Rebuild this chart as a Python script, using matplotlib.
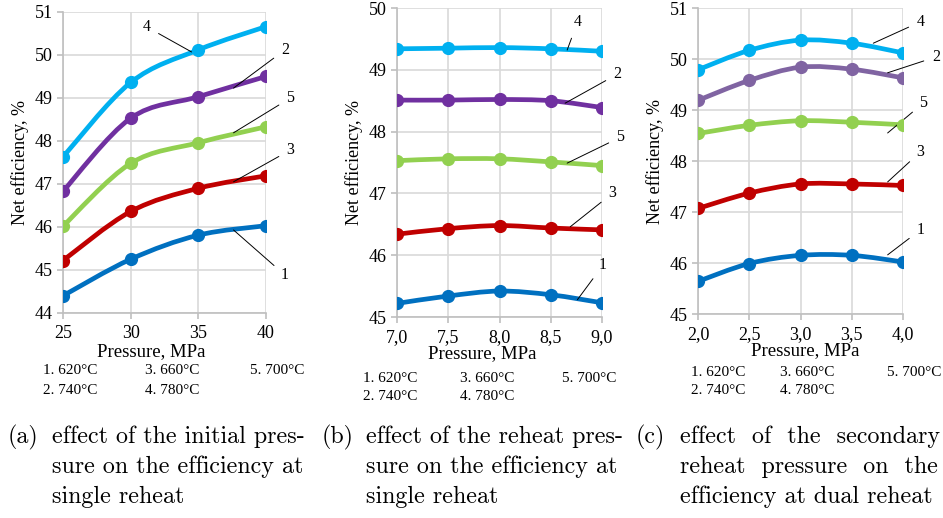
import matplotlib
matplotlib.use("Agg")
import matplotlib.pyplot as plt
import numpy as np
from matplotlib.path import Path
from matplotlib.patches import PathPatch

# --- data ---
series_order = ["4", "2", "5", "3", "1"]

press_a = [25, 30, 35, 40]
eff_a = {
    "4": [47.63, 49.36, 50.12, 50.66],
    "2": [46.83, 48.53, 49.03, 49.50],
    "5": [46.02, 47.48, 47.96, 48.33],
    "3": [45.22, 46.36, 46.90, 47.19],
    "1": [44.40, 45.25, 45.81, 46.03],
}

press_b = [7.0, 7.5, 8.0, 8.5, 9.0]
eff_b = {
    "4": [49.34, 49.35, 49.36, 49.34, 49.30],
    "2": [48.51, 48.51, 48.52, 48.50, 48.39],
    "5": [47.53, 47.56, 47.56, 47.51, 47.45],
    "3": [46.34, 46.43, 46.48, 46.44, 46.41],
    "1": [45.22, 45.34, 45.42, 45.36, 45.23],
}

press_c = [2.0, 2.5, 3.0, 3.5, 4.0]
eff_c = {
    "4": [49.79, 50.17, 50.37, 50.31, 50.12],
    "2": [49.19, 49.58, 49.84, 49.80, 49.63],
    "5": [48.54, 48.70, 48.79, 48.76, 48.71],
    "3": [47.07, 47.37, 47.55, 47.55, 47.52],
    "1": [45.64, 45.99, 46.15, 46.15, 46.02],
}

xticks_a = ["25", "30", "35", "40"]
xticks_b = ["7,0", "7,5", "8,0", "8,5", "9,0"]
xticks_c = ["2,0", "2,5", "3,0", "3,5", "4,0"]

legend_row1 = ["1. 620°C", "3. 660°C", "5. 700°C"]
legend_row2 = ["2. 740°C", "4. 780°C"]

captions = [
    ("(a)", ["effect of the initial pres-", "sure on the efficiency at", "single reheat"]),
    ("(b)", ["effect of the reheat pres-", "sure on the efficiency at", "single reheat"]),
    ("(c)", ["effect  of  the  secondary", "reheat  pressure  on  the", "efficiency at dual reheat"]),
]

colors = {"4": "#00B0F0", "2": "#7030A0", "5": "#92D050", "3": "#C00000", "1": "#0070C0"}
colors_c = dict(colors, **{"2": "#8064A2"})

SERIF = "Liberation Serif"
GRID = "#D9D9D9"


def smooth_line(ax, x, y, color):
    # excel-style smoothed line: cubic bezier through the points
    x = np.asarray(x, float)
    y = np.asarray(y, float)
    pts = np.column_stack([x, y])
    n = len(pts)
    verts = [pts[0]]
    codes = [Path.MOVETO]
    for i in range(n - 1):
        p0 = pts[i - 1] if i > 0 else pts[i]
        p1 = pts[i]
        p2 = pts[i + 1]
        p3 = pts[i + 2] if i + 2 < n else pts[i + 1]
        c1 = p1 + (p2 - p0) / 6.0
        c2 = p2 - (p3 - p1) / 6.0
        verts += [c1, c2, p2]
        codes += [Path.CURVE4] * 3
    patch = PathPatch(Path(verts, codes), facecolor="none", edgecolor=color,
                      lw=3.4, capstyle="round", joinstyle="round", zorder=3)
    ax.add_patch(patch)
    ax.plot(x, y, ls="none", marker="o", ms=8.5, color=color, zorder=4)


def style_axes(ax, xs, xlabels, ylim, xlab_pos):
    ax.set_xlim(xs[0], xs[-1])
    ax.set_ylim(*ylim)
    ax.set_xticks(xs)
    ax.set_xticklabels(xlabels)
    ax.set_yticks(np.arange(ylim[0], ylim[1] + 1))
    ax.grid(True, color=GRID, lw=1.2)
    ax.set_axisbelow(True)
    for s in ["top", "right"]:
        ax.spines[s].set_visible(False)
    for s in ["left", "bottom"]:
        ax.spines[s].set_color("#BFBFBF")
        ax.spines[s].set_linewidth(1.2)
    ax.tick_params(axis="both", colors="#BFBFBF", labelcolor="black",
                   labelsize=13, length=4, width=1.2)
    ax.tick_params(axis="x", pad=5)
    for lab in ax.get_xticklabels() + ax.get_yticklabels():
        lab.set_fontfamily(SERIF)
    ax.set_xlabel("Pressure, MPa", fontfamily=SERIF, fontsize=13.5)
    ax.xaxis.set_label_coords(*xlab_pos)
    ax.set_ylabel("Net efficiency, %", fontfamily=SERIF, fontsize=13, labelpad=4)


def label(ax, txt, xy, xytext):
    ax.annotate(txt, xy=xy, xytext=xytext, textcoords="data",
                fontfamily=SERIF, fontsize=11.5, ha="center", va="center",
                annotation_clip=False,
                arrowprops=dict(arrowstyle="-", color="black", lw=0.7,
                                shrinkA=4, shrinkB=0))


fig = plt.figure(figsize=(9.43, 5.18), dpi=100)

ax_a = fig.add_axes([0.0668, 0.3958, 0.2153, 0.5811])
ax_b = fig.add_axes([0.4210, 0.3880, 0.2174, 0.5965])
ax_c = fig.add_axes([0.7402, 0.3938, 0.2174, 0.5907])

for k in series_order:
    smooth_line(ax_a, press_a, eff_a[k], colors[k])
    smooth_line(ax_b, press_b, eff_b[k], colors[k])
    smooth_line(ax_c, press_c, eff_c[k], colors_c[k])

style_axes(ax_a, press_a, xticks_a, (44, 51), (0.433, -0.10))
style_axes(ax_b, press_b, xticks_b, (45, 50), (0.415, -0.091))
style_axes(ax_c, press_c, xticks_c, (45, 51), (0.522, -0.092))

# leader-line labels
label(ax_a, "4", (34.5, 50.07), (31.2, 50.65))
label(ax_a, "2", (37.6, 49.23), (41.4, 50.12))
label(ax_a, "5", (37.6, 48.19), (41.8, 49.00))
label(ax_a, "3", (37.6, 47.05), (41.8, 47.79))
label(ax_a, "1", (37.6, 45.93), (41.4, 44.88))

label(ax_b, "4", (8.66, 49.32), (8.76, 49.77))
label(ax_b, "2", (8.64, 48.46), (9.15, 48.93))
label(ax_b, "5", (8.66, 47.49), (9.18, 47.91))
label(ax_b, "3", (8.69, 46.46), (9.10, 47.00))
label(ax_b, "1", (8.76, 45.28), (9.01, 45.84))

label(ax_c, "4", (3.71, 50.31), (4.17, 50.73))
label(ax_c, "2", (3.85, 49.73), (4.32, 50.04))
label(ax_c, "5", (3.85, 48.55), (4.20, 49.14))
label(ax_c, "3", (3.85, 47.59), (4.17, 48.18))
label(ax_c, "1", (3.85, 46.16), (4.17, 46.65))

# text legends under each panel (pixel positions, top-left origin)
W, H = 943, 518
legend_spots = [
    ((43, 145, 250), (371, 390)),
    ((363, 460, 562), (378, 397)),
    ((691, 780, 887), (372, 391)),
]
for xs, (y1, y2) in legend_spots:
    for x, t in zip(xs, legend_row1):
        fig.text(x / W, 1 - y1 / H, t, fontfamily=SERIF, fontsize=11, va="center")
    for x, t in zip(xs, legend_row2):
        fig.text(x / W, 1 - y2 / H, t, fontfamily=SERIF, fontsize=11, va="center")

# captions
cap_x = [(8, 52), (322, 366), (636, 680)]
for (xl, xt), (tag, lines) in zip(cap_x, captions):
    fig.text(xl / W, 1 - 437 / H, tag, fontfamily="cmr10", fontsize=17.3, va="center")
    for i, ln in enumerate(lines):
        fig.text(xt / W, 1 - (437 + 30 * i) / H, ln, fontfamily="cmr10",
                 fontsize=17.3, va="center")

fig.savefig("out.png", dpi=100)
